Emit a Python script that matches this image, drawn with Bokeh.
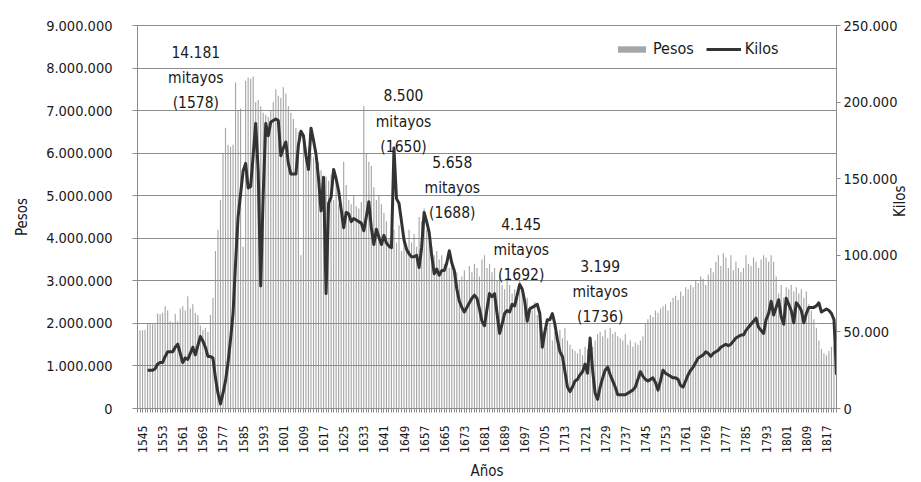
import math
from bokeh.plotting import figure
from bokeh.models import Range1d, LinearAxis, FixedTicker, Legend, LegendItem
from bokeh.core.properties import value
from bokeh.embed import file_html
from bokeh.resources import INLINE

FONT = "'Liberation Sans Narrow', 'DejaVu Sans Condensed', 'Roboto Condensed', Roboto, sans-serif"

# ---------------- data ----------------
pesos_years = list(range(1543, 1822))
pesos_millions = [
    1.84, 1.84, 1.84, 1.85, 1.99, 2.00, 1.98, 2.01, 2.23, 2.22,
    2.25, 2.40, 2.30, 2.05, 2.02, 2.22, 2.05, 2.35, 2.40, 2.30,
    2.64, 2.35, 2.45, 2.25, 2.20, 1.95, 1.85, 1.90, 1.80, 2.20,
    2.60, 3.70, 4.20, 4.90, 6.00, 6.60, 6.20, 6.15, 6.20, 7.66,
    7.00, 7.05, 3.80, 7.70, 7.78, 7.75, 7.80, 7.20, 7.25, 7.10,
    6.95, 6.90, 6.85, 7.00, 7.20, 7.50, 7.35, 7.30, 7.55, 7.40,
    7.10, 6.95, 6.80, 6.60, 6.50, 3.60, 6.20, 6.10, 6.15, 6.00,
    5.90, 5.70, 5.80, 5.60, 5.40, 5.45, 5.35, 5.50, 4.90, 5.40,
    4.80, 4.55, 5.80, 5.25, 4.90, 4.80, 5.00, 4.75, 4.70, 4.85,
    7.10, 6.00, 5.80, 5.70, 5.20, 4.90, 5.00, 4.80, 4.60, 4.40,
    4.00, 4.50, 4.20, 3.90, 4.30, 3.70, 4.00, 3.80, 4.20, 3.90,
    4.10, 3.80, 4.50, 4.40, 4.70, 4.20, 3.90, 3.80, 3.60, 3.70,
    3.50, 3.60, 3.40, 3.50, 3.30, 3.40, 3.30, 3.20, 3.00, 3.10,
    3.25, 3.00, 3.35, 3.20, 3.40, 3.30, 3.10, 3.50, 3.60, 3.30,
    3.40, 3.20, 3.30, 3.00, 3.10, 2.90, 2.80, 3.00, 2.90, 2.70,
    2.80, 2.60, 3.00, 2.70, 2.50, 2.60, 2.40, 2.30, 2.50, 2.20,
    2.00, 1.80, 1.70, 1.90, 2.00, 1.60, 1.80, 1.70, 1.85, 1.65,
    1.90, 1.60, 1.50, 1.40, 1.35, 1.30, 1.40, 1.25, 1.45, 1.40,
    1.35, 1.45, 1.60, 1.75, 1.80, 1.70, 1.85, 1.65, 1.90, 1.75,
    1.80, 1.70, 1.65, 1.60, 1.75, 1.50, 1.60, 1.45, 1.55, 1.50,
    1.60, 1.70, 2.00, 2.10, 2.20, 2.15, 2.30, 2.25, 2.35, 2.40,
    2.45, 2.30, 2.50, 2.60, 2.65, 2.55, 2.75, 2.65, 2.85, 2.80,
    2.90, 2.85, 3.00, 2.95, 3.10, 3.05, 2.90, 3.15, 3.30, 3.20,
    3.45, 3.60, 3.35, 3.65, 3.55, 3.30, 3.60, 3.25, 3.45, 3.30,
    3.20, 3.30, 3.60, 3.40, 3.35, 3.55, 3.45, 3.30, 3.50, 3.60,
    3.55, 3.45, 3.60, 3.45, 3.10, 2.70, 2.90, 2.60, 2.85, 2.80,
    2.90, 2.75, 2.85, 2.70, 2.80, 2.60, 2.75, 2.45, 2.30, 2.10,
    1.90, 1.60, 1.40, 1.30, 1.25, 1.35, 1.45, 1.50, 1.60,
]

kilos_years = list(range(1547, 1822))
kilos_thousands = [
    25, 25, 25, 26, 29, 30, 30, 34, 37, 37,
    37, 40, 42, 36, 30, 33, 32, 36, 40, 35,
    41, 47, 44, 40, 34, 34, 33, 20, 10, 3,
    10, 18, 30, 45, 62, 95, 125, 140, 155, 160,
    144, 145, 165, 186, 155, 80, 140, 186, 178, 187,
    188, 189, 188, 165, 170, 174, 160, 153, 153, 153,
    172, 181, 178, 165, 156, 183, 175, 166, 150, 129,
    151, 75, 134, 138, 156, 150, 142, 130, 118, 128,
    127, 122, 124, 123, 122, 121, 116, 125, 135, 118,
    107, 117, 112, 107, 113, 108, 106, 105, 170, 137,
    134, 122, 110, 104, 101, 99, 99, 100, 92, 105,
    128, 122, 115, 100, 88, 91, 87, 90, 90, 95,
    103, 95, 90, 78, 70, 66, 63, 66, 69, 72,
    74, 72, 65, 57, 54, 65, 75, 73, 75, 62,
    49, 55, 62, 64, 63, 68, 67, 74, 81, 78,
    70, 57, 65, 66, 67, 68, 62, 40, 50, 58,
    58, 62, 55, 45, 37, 34, 24, 14, 11, 14,
    18, 19, 22, 24, 29, 23, 46, 25, 10, 6,
    14, 20, 25, 27, 22, 18, 14, 9, 9, 9,
    9, 10, 11, 12, 14, 19, 24, 21, 19, 18,
    19, 20, 17, 12, 18, 25, 23, 22, 21, 20,
    20, 19, 15, 14, 18, 22, 25, 27, 30, 33,
    34, 35, 37, 36, 34, 36, 37, 38, 40, 41,
    42, 41, 42, 44, 46, 47, 48, 48, 51, 53,
    55, 57, 59, 53, 51, 49, 58, 62, 70, 61,
    66, 71, 60, 55, 72, 68, 64, 56, 69, 67,
    64, 56, 62, 66, 66, 66, 67, 69, 63, 64,
    65, 64, 62, 58, 22,
]

left_ticks = [0, 1000000, 2000000, 3000000, 4000000, 5000000,
              6000000, 7000000, 8000000, 9000000]
left_labels = ["0", "1.000.000", "2.000.000", "3.000.000", "4.000.000",
               "5.000.000", "6.000.000", "7.000.000", "8.000.000", "9.000.000"]
right_ticks = [0, 50000, 100000, 150000, 200000, 250000]
right_labels = ["0", "50.000", "100.000", "150.000", "200.000", "250.000"]
year_ticks = list(range(1545, 1818, 8))

ann_x = [1566.2, 1648.8, 1668.2, 1695.6, 1727.0]
ann_y = [7760000, 6740000, 5180000, 3720000, 2740000]
ann_text = ["14.181\nmitayos\n(1578)", "8.500\nmitayos\n(1650)",
            "5.658\nmitayos\n(1688)", "4.145\nmitayos\n(1692)",
            "3.199\nmitayos\n(1736)"]

# ---------------- figure ----------------
p = figure(width=921, height=482,
           x_range=Range1d(1543, 1821), y_range=Range1d(0, 9000000),
           output_backend="svg", toolbar_location=None,
           min_border_left=137, min_border_right=85,
           min_border_top=25, min_border_bottom=74)
p.extra_y_ranges = {"kilos": Range1d(0, 250000)}
p.background_fill_color = "white"
p.border_fill_color = "white"
p.outline_line_color = "#8c8c8c"

bars = p.vbar(x=pesos_years, top=[v * 1000000 for v in pesos_millions],
              width=0.45, fill_color="#a6a6a6", line_color=None,
              level="image")
line = p.line(kilos_years, [k * 1000 for k in kilos_thousands],
              y_range_name="kilos", line_width=3, line_color="#333333",
              line_join="round")

p.text(x=ann_x, y=ann_y, text=ann_text, text_align="center",
       text_baseline="middle", text_font=value(FONT),
       text_font_size="15.5px", text_line_height=1.4, text_color="#1a1a1a")

# grid
p.xgrid.visible = False
p.ygrid.ticker = FixedTicker(ticks=left_ticks)
p.ygrid.grid_line_color = "#8c8c8c"
p.ygrid.grid_line_width = 1

# left axis
ly = p.yaxis[0]
ly.ticker = FixedTicker(ticks=left_ticks)
ly.major_label_overrides = {t: s for t, s in zip(left_ticks, left_labels)}
ly.axis_label = "Pesos"

# right axis
ry = LinearAxis(y_range_name="kilos", ticker=FixedTicker(ticks=right_ticks),
                axis_label="Kilos")
ry.major_label_overrides = {t: s for t, s in zip(right_ticks, right_labels)}
try:
    ry.axis_label_orientation = math.pi / 2
except Exception:
    pass
p.add_layout(ry, "right")

# x axis
xa = p.xaxis[0]
xa.ticker = FixedTicker(ticks=year_ticks, minor_ticks=pesos_years)
xa.major_label_overrides = {y: str(y) for y in year_ticks}
xa.major_label_orientation = math.pi / 2
xa.axis_label = "Años"

for ax in [ly, ry, xa]:
    ax.axis_line_color = "#8c8c8c"
    ax.major_tick_line_color = "#8c8c8c"
    ax.minor_tick_line_color = "#8c8c8c"
    ax.major_tick_in = 0
    ax.major_tick_out = 5
    ax.minor_tick_in = 0
    ax.minor_tick_out = 0
    ax.major_label_text_font = FONT
    ax.major_label_text_font_size = "14.5px"
    ax.major_label_text_color = "#1a1a1a"
    ax.axis_label_text_font = FONT
    ax.axis_label_text_font_size = "15px"
    ax.axis_label_text_font_style = "normal"
    ax.axis_label_text_color = "#1a1a1a"

xa.major_tick_out = 4
xa.minor_tick_out = 4
xa.major_label_text_font_size = "12px"
xa.major_label_standoff = 13
xa.axis_label_standoff = 6
ly.major_label_standoff = 20
ly.axis_label_standoff = 12
ry.major_tick_out = 4
ry.major_label_standoff = 3
ry.axis_label_standoff = 0

legend = Legend(items=[LegendItem(label="Pesos", renderers=[bars]),
                       LegendItem(label="Kilos", renderers=[line])],
                orientation="horizontal", location=(477, 350),
                glyph_width=35, glyph_height=8, label_standoff=4,
                spacing=12, padding=0, margin=0,
                border_line_color=None, background_fill_alpha=0,
                label_text_font=FONT, label_text_font_size="16px",
                label_text_color="#1a1a1a")
p.add_layout(legend)

open("out.html", "w").write(file_html(p, INLINE))
